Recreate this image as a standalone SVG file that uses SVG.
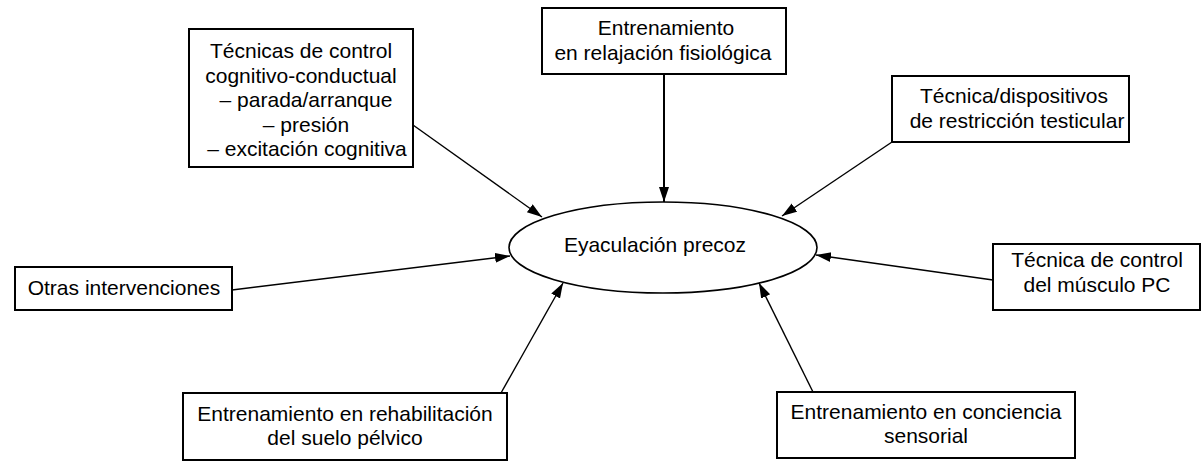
<svg xmlns="http://www.w3.org/2000/svg" width="1203" height="471" viewBox="0 0 1203 471">
<style>
.box{fill:#fff;stroke:#000;stroke-width:2}
.t{font-family:"Liberation Sans",Arial,sans-serif;font-size:21px;fill:#000;text-anchor:middle}
.c{stroke:#000;stroke-width:1.4;fill:none;marker-end:url(#ah)}
</style>
<defs>
<marker id="ah" markerUnits="userSpaceOnUse" markerWidth="16" markerHeight="12" refX="15" refY="5" orient="auto">
<path d="M0,0 L15,5 L0,10 Z" fill="#000"/>
</marker>
</defs>
<rect width="1203" height="471" fill="#fff"/>
<g id="connectors">
<line class="c" x1="413" y1="125" x2="542" y2="217"/>
<line class="c" x1="664" y1="74" x2="664" y2="202" style="stroke-width:2"/>
<line class="c" x1="892" y1="142" x2="782" y2="216"/>
<line class="c" x1="993" y1="280" x2="816" y2="255"/>
<line class="c" x1="813" y1="392" x2="759" y2="283"/>
<line class="c" x1="501" y1="393" x2="563" y2="283"/>
<line class="c" x1="232" y1="290" x2="510" y2="256"/>
</g>
<g id="center">
<ellipse cx="663" cy="247.5" rx="154" ry="45.5" fill="#fff" stroke="#000" stroke-width="1.6"/>
<text class="t" x="655" y="252">Eyaculación precoz</text>
</g>
<g id="n1">
<rect class="box" x="189" y="29" width="224" height="138"/>
<text class="t" x="301" y="58">Técnicas de control</text>
<text class="t" x="301" y="82.5">cognitivo-conductual</text>
<text class="t" x="306" y="107">– parada/arranque</text>
<text class="t" x="306" y="131.5">– presión</text>
<text class="t" x="307" y="156">– excitación cognitiva</text>
</g>
<g id="n2">
<rect class="box" x="542" y="8" width="244" height="66"/>
<text class="t" x="666" y="35">Entrenamiento</text>
<text class="t" x="663" y="60">en relajación fisiológica</text>
</g>
<g id="n3">
<rect class="box" x="892" y="76" width="237" height="66"/>
<text class="t" x="1014" y="103">Técnica/dispositivos</text>
<text class="t" x="1017" y="128">de restricción testicular</text>
</g>
<g id="n4">
<rect class="box" x="993" y="244" width="207" height="66"/>
<text class="t" x="1097" y="267">Técnica de control</text>
<text class="t" x="1097" y="292">del músculo PC</text>
</g>
<g id="n5">
<rect class="box" x="777" y="392" width="298" height="66"/>
<text class="t" x="926" y="419">Entrenamiento en conciencia</text>
<text class="t" x="926" y="443">sensorial</text>
</g>
<g id="n6">
<rect class="box" x="183" y="393" width="324" height="67"/>
<text class="t" x="345" y="421">Entrenamiento en rehabilitación</text>
<text class="t" x="345" y="445">del suelo pélvico</text>
</g>
<g id="n7">
<rect class="box" x="15" y="267" width="217" height="43"/>
<text class="t" x="124" y="295">Otras intervenciones</text>
</g>
</svg>
